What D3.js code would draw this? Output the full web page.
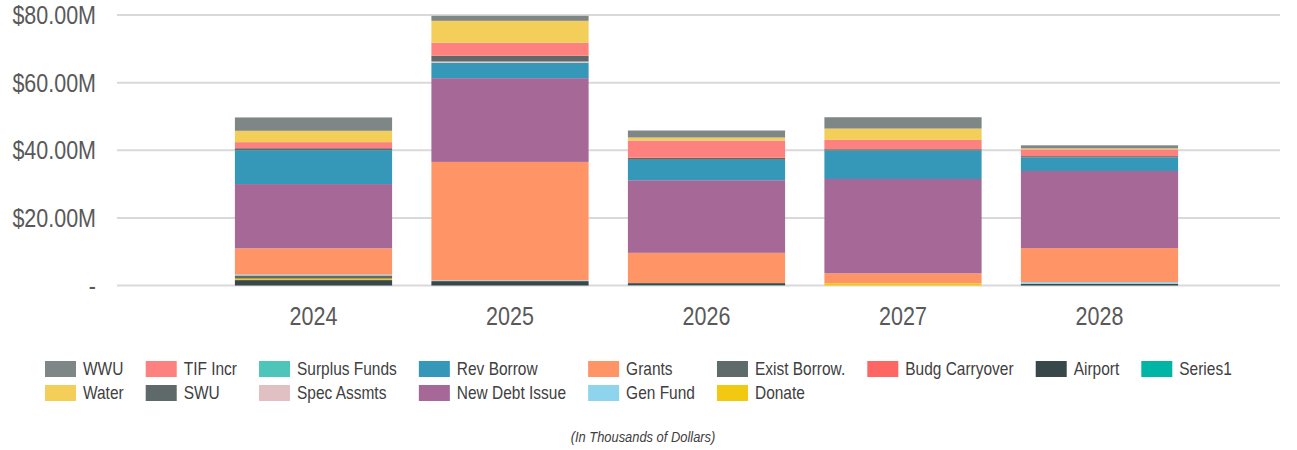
<!DOCTYPE html>
<html>
<head>
<meta charset="utf-8">
<script src="https://cdn.jsdelivr.net/npm/d3@7"></script>
<style>
  html, body { margin: 0; padding: 0; background: #fff; }
  svg { display: block; font-family: "Liberation Sans", Arial, sans-serif; }
</style>
</head>
<body>
<svg id="chart" width="1297" height="450"></svg>
<script>
// Capital plan funding by year, in $ millions
const years = ["2024", "2025", "2026", "2027", "2028"];

// Funding sources, listed bottom-of-stack first
const series1       = [0,    0,     0.1,   0,     0];
const airport       = [1.6,  1.3,   0.6,   0,     0.5];
const budgCarryover = [0,    0,     0,     0,     0];
const donate        = [0.45, 0,     0,     0.65,  0];
const existBorrow   = [0.9,  0,     0,     0,     0];
const genFund       = [0.25, 0.25,  0,     0,     0.5];
const grants        = [7.8,  35.0,  8.96,  2.95,  10.06];
const newDebtIssue  = [19.0, 24.77, 21.47, 27.9,  22.8];
const revBorrow     = [10.0, 4.53,  6.05,  8.4,   4.0];
const specAssmts    = [0,    0.4,   0,     0,     0];
const surplusFunds  = [0,    0,     0,     0,     0];
const swu           = [0.6,  1.68,  0.6,   0.4,   0.4];
const tifIncr       = [1.8,  3.85,  5.1,   2.76,  2.0];
const water         = [3.35, 6.5,   0.89,  3.35,  0.3];
const wwu           = [3.95, 1.48,  2.07,  3.35,  0.9];

const seriesNames = ["Series1", "Airport", "Budg Carryover", "Donate", "Exist Borrow.",
  "Gen Fund", "Grants", "New Debt Issue", "Rev Borrow", "Spec Assmts", "Surplus Funds",
  "SWU", "TIF Incr", "Water", "WWU"];
const seriesValues = [series1, airport, budgCarryover, donate, existBorrow, genFund,
  grants, newDebtIssue, revBorrow, specAssmts, surplusFunds, swu, tifIncr, water, wwu];
const seriesColors = ["#00b5a5", "#37474a", "#fd6663", "#f1c910", "#5f6b6b",
  "#8dd4ec", "#ff9566", "#a56897", "#3598b8", "#e0c0c2", "#4dc6b9",
  "#5f6969", "#fd817e", "#f3cf5a", "#7f8786"];

// Legend reads top-of-stack first, two rows
const legendRow1 = ["WWU", "TIF Incr", "Surplus Funds", "Rev Borrow", "Grants",
  "Exist Borrow.", "Budg Carryover", "Airport", "Series1"];
const legendRow2 = ["Water", "SWU", "Spec Assmts", "New Debt Issue", "Gen Fund", "Donate"];

const yTicks = [0, 20, 40, 60, 80];
const yTickLabels = ["-", "$20.00M", "$40.00M", "$60.00M", "$80.00M"];
const footnote = "(In Thousands of Dollars)";

// ---- build the stacked table ----
const rows = years.map((yr, i) => {
  const r = { year: yr };
  seriesNames.forEach((n, k) => { r[n] = seriesValues[k][i]; });
  return r;
});
const stacked = d3.stack().keys(seriesNames)(rows);
const color = d3.scaleOrdinal().domain(seriesNames).range(seriesColors);

const svg = d3.select("#chart");
const NARROW = 0.86;           // condensed glyph width
const gridLeft = 117, gridRight = 1280;

const x = d3.scaleBand()
  .domain(years)
  .range([215.25, 1197.75])
  .paddingInner(0.2)
  .paddingOuter(0.1);

const y = d3.scaleLinear().domain([0, 80]).range([285.5, 15]);

// gridlines
svg.append("g").selectAll("line")
  .data(yTicks)
  .join("line")
  .attr("x1", gridLeft).attr("x2", gridRight)
  .attr("y1", d => y(d)).attr("y2", d => y(d))
  .attr("stroke", "#d9d9d9")
  .attr("stroke-width", 2);

// y tick labels
svg.append("g").selectAll("text")
  .data(yTicks)
  .join("text")
  .attr("transform", d => `translate(96,${y(d)}) scale(${NARROW},1)`)
  .attr("text-anchor", "end")
  .attr("dy", "0.36em")
  .attr("font-size", 25)
  .attr("fill", "#595959")
  .text((d, i) => yTickLabels[i]);

// stacked bars
svg.append("g").selectAll("g")
  .data(stacked)
  .join("g")
  .attr("fill", d => color(d.key))
  .selectAll("rect")
  .data(d => d)
  .join("rect")
  .attr("x", d => x(d.data.year))
  .attr("width", x.bandwidth())
  .attr("y", d => y(d[1]))
  .attr("height", d => Math.max(0, y(d[0]) - y(d[1])));

// x axis labels
svg.append("g").selectAll("text")
  .data(years)
  .join("text")
  .attr("transform", d => `translate(${x(d) + x.bandwidth() / 2},316) scale(${NARROW},1)`)
  .attr("text-anchor", "middle")
  .attr("dy", "0.36em")
  .attr("font-size", 25)
  .attr("fill", "#595959")
  .text(d => d);

// legend: columns sized by their widest label
const legend = svg.append("g");
const swW = 31, swH = 16, textOff = 38, colGap = 22;
const rowY = [369, 393];
const measure = legend.append("text").attr("font-size", 18).attr("opacity", 0);
const textW = s => { measure.text(s); return measure.node().getComputedTextLength() * NARROW; };
let cx = 45;
legendRow1.forEach((name, c) => {
  const col = [name, legendRow2[c]].filter(Boolean);
  col.forEach((n, r) => {
    legend.append("rect")
      .attr("x", cx).attr("y", rowY[r] - swH / 2)
      .attr("width", swW).attr("height", swH)
      .attr("fill", color(n));
    legend.append("text")
      .attr("transform", `translate(${cx + textOff},${rowY[r]}) scale(${NARROW},1)`)
      .attr("dy", "0.36em")
      .attr("font-size", 18)
      .attr("fill", "#404040")
      .text(n);
  });
  cx += textOff + d3.max(col, textW) + colGap;
});
measure.remove();

// footnote
svg.append("text")
  .attr("transform", `translate(643,437) scale(${NARROW},1)`)
  .attr("text-anchor", "middle")
  .attr("dy", "0.36em")
  .attr("font-size", 15)
  .attr("font-style", "italic")
  .attr("fill", "#404040")
  .text(footnote);
</script>
</body>
</html>
